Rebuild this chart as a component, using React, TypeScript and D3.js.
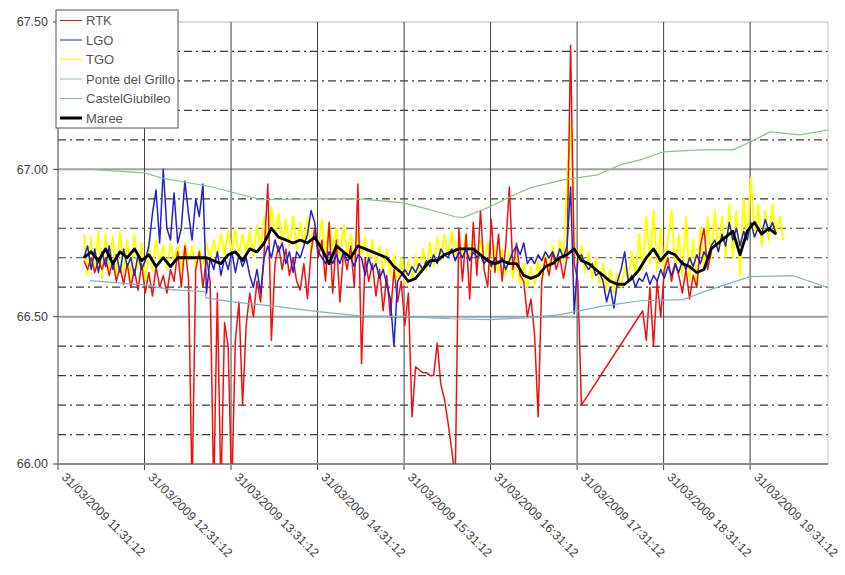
import React from "react";
import * as d3 from "d3";

// ---------- DATA ----------
// time in minutes after 31/03/2009 11:31:12
const xTickMinutes = [0, 60, 120, 180, 240, 300, 360, 420, 480];
const xTickLabels = [
  "31/03/2009 11:31:12",
  "31/03/2009 12:31:12",
  "31/03/2009 13:31:12",
  "31/03/2009 14:31:12",
  "31/03/2009 15:31:12",
  "31/03/2009 16:31:12",
  "31/03/2009 17:31:12",
  "31/03/2009 18:31:12",
  "31/03/2009 19:31:12",
];
const yTickValues = [66.0, 66.5, 67.0, 67.5];
const yTickLabels = ["66.00", "66.50", "67.00", "67.50"];
const yMajorGrid = [66.5, 67.0];
const yMinorGrid = [66.1, 66.2, 66.3, 66.4, 66.6, 66.7, 66.8, 66.9, 67.1, 67.2, 67.3, 67.4];

// sampled series: start 18 min, step 2.5 min
const sampleStart = 18;
const sampleStep = 2.5;

const rtk: (number | null)[] = [
  66.69, 66.66, 66.70, 66.65, 66.69, 66.66, 66.70, 66.64, 66.69, 66.62,
  66.67, 66.61, 66.68, 66.60, 66.66, 66.59, 66.68, 66.58, 66.65, 66.57,
  66.67, 66.60, 66.64, 66.58, 66.66, 66.62, 66.72, 66.60, 66.74, 66.63,
  65.90, 66.66, 66.72, 66.60, 66.70, 66.62, 65.90, 66.58, 65.90, 66.48,
  66.40, 65.90, 66.42, 66.55, 66.20, 66.47, 66.58, 66.50, 66.62, 66.55,
  66.72, 66.95, 66.42, 66.68, 66.74, 66.66, 66.73, 66.64, 66.70, 66.62,
  66.59, 66.68, 66.56, 66.72, 66.80, 66.70, 66.76, 66.62, 66.82, 66.58,
  66.76, 66.55, 66.72, 66.66, 66.74, 66.60, 66.95, 66.34, 66.70, 66.62,
  66.68, 66.57, 66.66, 66.52, 66.64, 66.50, 66.66, 66.55, 66.62, 66.47,
  66.58, 66.16, 66.33, 66.32, 66.31, 66.31, 66.30, 66.30, 66.41, 66.27,
  66.22, 66.14, 66.05, 65.95, 66.80, 66.62, 66.78, 66.56, 66.82, 66.64,
  66.86, 66.66, 66.60, 66.83, 66.65, 66.78, 66.62, 66.74, 66.94, 66.66,
  66.75, 66.64, 66.62, 66.50, 66.56, 66.44, 66.16, 66.62, 66.70, 66.64,
  66.72, 66.66, 66.70, 66.63, 66.70, 67.42, 66.68, 66.62, 66.20, null,
  null, null, null, null, null, null, null, null, null, null,
  null, null, null, null, null, 66.52, 66.42, 66.60, 66.40, 66.62,
  66.50, 66.66, 66.70, 66.62, 66.68, 66.64, 66.58, 66.66, 66.56, 66.64,
  66.60, 66.74, 66.80, 66.66, 66.72,
];

const lgo: number[] = [
  66.70, 66.74, 66.66, 66.73, 66.65, 66.72, 66.67, 66.74, 66.66, 66.71,
  66.65, 66.73, 66.67, 66.70, 66.64, 66.71, 66.66, 66.69, 66.74, 66.85,
  66.93, 66.75, 67.00, 66.80, 66.76, 66.92, 66.75, 66.80, 66.96, 66.85,
  66.76, 66.90, 66.84, 66.95, 66.58, 66.70, 66.66, 66.72, 66.64, 66.70,
  66.66, 66.72, 66.65, 66.71, 66.67, 66.70, 66.64, 66.60, 66.66, 66.58,
  66.70, 66.74, 66.70, 66.76, 66.72, 66.75, 66.68, 66.72, 66.65, 66.72,
  66.70, 66.74, 66.78, 66.86, 66.82, 66.72, 66.70, 66.68, 66.72, 66.68,
  66.71, 66.68, 66.72, 66.69, 66.70, 66.67, 66.71, 66.70, 66.64, 66.70,
  66.66, 66.68, 66.63, 66.66, 66.61, 66.56, 66.40, 66.62, 66.64, 66.66,
  66.64, 66.67, 66.65, 66.68, 66.66, 66.69, 66.67, 66.71, 66.68, 66.73,
  66.71, 66.70, 66.73, 66.69, 66.72, 66.70, 66.73, 66.69, 66.72, 66.70,
  66.71, 66.68, 66.70, 66.67, 66.70, 66.68, 66.70, 66.66, 66.69, 66.72,
  66.74, 66.71, 66.75, 66.68, 66.70, 66.68, 66.71, 66.69, 66.72, 66.70,
  66.72, 66.69, 66.73, 66.70, 66.74, 66.94, 66.51, 66.70, 66.71, 66.68,
  66.66, 66.68, 66.64, 66.65, 66.62, 66.55, 66.60, 66.53, 66.62, 66.66,
  66.72, 66.62, 66.64, 66.60, 66.63, 66.62, 66.65, 66.61, 66.64, 66.62,
  66.66, 66.63, 66.67, 66.64, 66.68, 66.65, 66.69, 66.66, 66.70, 66.67,
  66.71, 66.68, 66.72, 66.70, 66.74, 66.76, 66.72, 66.78, 66.74, 66.82,
  66.76, 66.80, 66.74, 66.79, 66.76, 66.82, 66.77, 66.80, 66.78, 66.83,
  66.79, 66.82, 66.78,
];

const tgo: number[] = [
  66.78, 66.64, 66.77, 66.65, 66.79, 66.63, 66.78, 66.66, 66.77, 66.64,
  66.79, 66.65, 66.76, 66.63, 66.78, 66.66, 66.75, 66.62, 66.74, 66.66,
  66.76, 66.68, 66.74, 66.66, 66.75, 66.68, 66.74, 66.66, 66.75, 66.69,
  66.74, 66.67, 66.73, 66.68, 66.75, 66.69, 66.76, 66.70, 66.78, 66.71,
  66.79, 66.72, 66.80, 66.70, 66.78, 66.72, 66.79, 66.71, 66.81, 66.73,
  66.84, 66.76, 66.87, 66.78, 66.85, 66.75, 66.83, 66.74, 66.84, 66.73,
  66.82, 66.74, 66.84, 66.72, 66.80, 66.73, 66.83, 66.71, 66.82, 66.73,
  66.80, 66.70, 66.81, 66.72, 66.78, 66.69, 66.79, 66.71, 66.77, 66.68,
  66.76, 66.67, 66.74, 66.65, 66.73, 66.64, 66.71, 66.62, 66.70, 66.61,
  66.69, 66.62, 66.71, 66.64, 66.73, 66.66, 66.75, 66.67, 66.77, 66.69,
  66.78, 66.70, 66.79, 66.71, 66.77, 66.70, 66.78, 66.69, 66.77, 66.68,
  66.76, 66.67, 66.75, 66.66, 66.74, 66.65, 66.73, 66.64, 66.72, 66.63,
  66.70, 66.61, 66.68, 66.60, 66.67, 66.61, 66.69, 66.63, 66.72, 66.65,
  66.74, 66.67, 66.76, 66.69, 66.96, 67.16, 66.75, 66.68, 66.74, 66.65,
  66.72, 66.63, 66.70, 66.61, 66.68, 66.59, 66.66, 66.58, 66.65, 66.60,
  66.67, 66.62, 66.72, 66.64, 66.78, 66.66, 66.84, 66.68, 66.86, 66.66,
  66.80, 66.65, 66.76, 66.86, 66.66, 66.78, 66.64, 66.84, 66.62, 66.76,
  66.60, 66.80, 66.66, 66.84, 66.70, 66.86, 66.72, 66.84, 66.70, 66.88,
  66.70, 66.86, 66.64, 66.90, 66.76, 66.97, 66.78, 66.88, 66.74, 66.86,
  66.76, 66.88, 66.78, 66.84, 66.76,
];

// Maree: start 18 min, step 5 min
const mareeStart = 18;
const mareeStep = 5;
const maree: number[] = [
  66.70, 66.72, 66.69, 66.73, 66.68, 66.72, 66.70, 66.73, 66.69, 66.71,
  66.67, 66.70, 66.67, 66.70, 66.70, 66.70, 66.70, 66.70, 66.69, 66.68,
  66.71, 66.72, 66.69, 66.73, 66.72, 66.75, 66.80, 66.77, 66.76, 66.75,
  66.76, 66.75, 66.77, 66.73, 66.68, 66.74, 66.72, 66.70, 66.74, 66.73,
  66.72, 66.71, 66.70, 66.67, 66.65, 66.62, 66.63, 66.66, 66.69, 66.69,
  66.71, 66.72, 66.73, 66.73, 66.73, 66.71, 66.69, 66.68, 66.69, 66.68,
  66.68, 66.64, 66.63, 66.64, 66.67, 66.68, 66.70, 66.71, 66.73, 66.69,
  66.68, 66.66, 66.64, 66.62, 66.61, 66.61, 66.63, 66.66, 66.70, 66.73,
  66.69, 66.72, 66.71, 66.68, 66.67, 66.65, 66.66, 66.73, 66.75, 66.77,
  66.79, 66.71, 66.79, 66.82, 66.78, 66.80, 66.78,
];

// Ponte del Grillo (minutes, level)
const ponteTimes = [22.2, 60.3, 71.4, 106.1, 140.8, 180.3, 209.5, 239.3, 258.0, 275.4, 280.9, 299.6, 313.5, 327.4, 350.3, 360.0, 373.9, 389.8, 403.7, 419.6, 445.3, 468.2, 480.0, 493.9, 514.7, 534.1];
const ponteValues = [67.0, 66.988, 66.971, 66.941, 66.897, 66.9, 66.9, 66.886, 66.863, 66.839, 66.836, 66.873, 66.907, 66.937, 66.964, 66.971, 66.981, 67.015, 67.032, 67.059, 67.066, 67.066, 67.093, 67.127, 67.117, 67.134];

// Castel Giubileo
const castelTimes = [22.2, 60.3, 77.7, 102.0, 102.7, 120.0, 152.6, 180.3, 209.5, 240.0, 271.9, 299.6, 327.4, 348.2, 375.9, 403.7, 433.5, 452.2, 480.0, 509.8, 534.1];
const castelValues = [66.622, 66.608, 66.592, 66.585, 66.564, 66.551, 66.534, 66.517, 66.503, 66.5, 66.493, 66.49, 66.497, 66.507, 66.534, 66.554, 66.558, 66.592, 66.636, 66.639, 66.598];

const seriesNames = ["RTK", "LGO", "TGO", "Ponte del Grillo", "CastelGiubileo", "Maree"];
const seriesColors = ["#ee1111", "#2222cc", "#ffff00", "#88c488", "#78b4c8", "#000000"];

type P = { t: number; v: number };

function sampled(arr: (number | null)[], start: number, step: number): P[] {
  const out: P[] = [];
  arr.forEach((v, i) => {
    if (v !== null && v !== undefined) out.push({ t: start + step * i, v });
  });
  return out;
}
function paired(ts: number[], vs: number[]): P[] {
  return ts.map((t, i) => ({ t, v: vs[i] }));
}

export default function App() {
  const W = 845, H = 575;
  const L = 58, R = 828, T = 22, B = 464;
  const x = d3.scaleLinear().domain([0, 534]).range([L, R]);
  const y = d3.scaleLinear().domain([66.0, 67.5]).range([B, T]);
  const line = d3.line<P>().x((d) => x(d.t)).y((d) => y(d.v));

  const series: { name: string; color: string; width: number; pts: P[] }[] = [
    { name: "TGO", color: seriesColors[2], width: 2, pts: sampled(tgo, sampleStart, sampleStep) },
    { name: "RTK", color: seriesColors[0], width: 1.5, pts: sampled(rtk, sampleStart, sampleStep) },
    { name: "LGO", color: seriesColors[1], width: 1.5, pts: sampled(lgo, sampleStart, sampleStep) },
    { name: "Ponte del Grillo", color: seriesColors[3], width: 1.2, pts: paired(ponteTimes, ponteValues) },
    { name: "CastelGiubileo", color: seriesColors[4], width: 1.2, pts: paired(castelTimes, castelValues) },
    { name: "Maree", color: seriesColors[5], width: 2.8, pts: sampled(maree, mareeStart, mareeStep) },
  ];

  const font = "Liberation Sans, Arial, sans-serif";

  return (
    <div style={{ position: "absolute", left: 0, top: 0 }}>
      <svg width={W} height={H} style={{ display: "block", background: "#fff" }}>
        <defs>
          <clipPath id="plotClip">
            <rect x={L} y={T} width={R - L} height={B - T} />
          </clipPath>
        </defs>
        {/* minor dash-dot gridlines */}
        {yMinorGrid.map((v) => (
          <line key={"mn" + v} x1={L} x2={R} y1={y(v)} y2={y(v)} stroke="#3c3c3c" strokeWidth={1.2} strokeDasharray="8,4,2,4" />
        ))}
        {/* major gridlines */}
        {yMajorGrid.map((v) => (
          <line key={"mj" + v} x1={L} x2={R} y1={y(v)} y2={y(v)} stroke="#a0a0a0" strokeWidth={2} />
        ))}
        {/* top and right border */}
        <line x1={L} x2={R} y1={y(67.5)} y2={y(67.5)} stroke="#b8b8b8" strokeWidth={1} />
        <line x1={R} x2={R} y1={T} y2={B} stroke="#c8c8c8" strokeWidth={1} />
        {/* vertical gridlines with tick marks */}
        {xTickMinutes.map((m) => (
          <line key={"vg" + m} x1={x(m)} x2={x(m)} y1={T} y2={B + 6} stroke="#404040" strokeWidth={1} />
        ))}
        {/* bottom axis */}
        <line x1={L} x2={R} y1={B} y2={B} stroke="#8a8a8a" strokeWidth={2} />
        {/* y ticks */}
        {yTickValues.map((v) => (
          <line key={"yt" + v} x1={L - 5} x2={L} y1={y(v)} y2={y(v)} stroke="#404040" strokeWidth={1} />
        ))}

        {/* series */}
        <g clipPath="url(#plotClip)">
          {series.map((s) => (
            <path key={s.name} d={line(s.pts) || ""} fill="none" stroke={s.color} strokeWidth={s.width} strokeLinejoin="round" />
          ))}
        </g>

        {/* y labels */}
        {yTickValues.map((v, i) => (
          <text key={"yl" + v} x={48} y={y(v)} dy="0.35em" textAnchor="end" fontFamily={font} fontSize={12.5} fill="#444">
            {yTickLabels[i]}
          </text>
        ))}
        {/* x labels */}
        {xTickMinutes.map((m, i) => (
          <text key={"xl" + m} transform={`translate(${x(m) + 3},${B + 14}) rotate(45)`} textAnchor="start" fontFamily={font} fontSize={12.3} fill="#444">
            {xTickLabels[i]}
          </text>
        ))}

        {/* legend */}
        <g>
          <rect x={56} y={10} width={122} height={118} fill="#fff" stroke="#555" strokeWidth={1} />
          {seriesNames.map((n, i) => {
            const ly = 20.5 + i * 19.5;
            return (
              <g key={"lg" + n}>
                <line x1={60} x2={82} y1={ly} y2={ly} stroke={seriesColors[i]} strokeWidth={n === "Maree" ? 3 : 1} />
                <text x={86} y={ly} dy="0.35em" fontFamily={font} fontSize={13} fill="#555">
                  {n}
                </text>
              </g>
            );
          })}
        </g>
      </svg>
    </div>
  );
}
